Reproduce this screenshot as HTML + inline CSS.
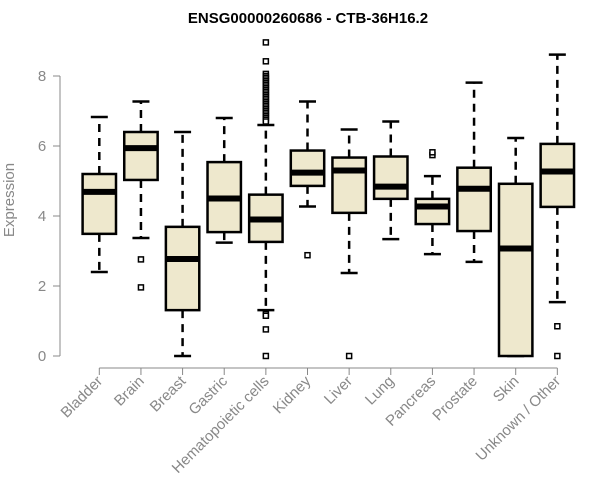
<!DOCTYPE html>
<html><head><meta charset="utf-8"><style>
body{margin:0;background:#fff}
svg{display:block;font-family:"Liberation Sans",Arial,sans-serif}
</style></head><body>
<svg id="chart" width="600" height="500" viewBox="0 0 600 500">
<text x="308" y="23" text-anchor="middle" font-weight="bold" font-size="15">ENSG00000260686 - CTB-36H16.2</text>
<text transform="translate(14,200) rotate(-90)" text-anchor="middle" font-size="15" fill="#888">Expression</text>
<g id="g"></g>
</svg>
<script>
const categories=["Bladder","Brain","Breast","Gastric","Hematopoietic cells","Kidney","Liver","Lung","Pancreas","Prostate","Skin","Unknown / Other"];
const lowWhisker=[2.4,3.37,0,3.24,1.31,4.27,2.37,3.34,2.91,2.69,0,1.54];
const q1=[3.49,5.03,1.31,3.54,3.26,4.86,4.09,4.49,3.77,3.57,0,4.26];
const median=[4.69,5.94,2.77,4.5,3.9,5.24,5.3,4.84,4.27,4.78,3.07,5.27];
const q3=[5.2,6.4,3.69,5.54,4.61,5.87,5.67,5.7,4.49,5.38,4.92,6.06];
const highWhisker=[6.83,7.27,6.4,6.8,6.6,7.27,6.47,6.7,5.14,7.81,6.23,8.61];
const outliers=[[],[2.76,1.96],[],[],
 [8.96,8.42,8.06,8.0,7.95,7.9,7.85,7.8,7.75,7.7,7.65,7.6,7.55,7.5,7.45,7.4,7.35,7.3,7.25,7.2,7.15,7.1,7.05,7.0,6.95,6.9,6.85,6.8,6.75,6.7,1.2,1.15,0.76,0],
 [2.88],[0],[],[5.74,5.82],[],[],[0.85,0]];
const yTicks=[0,2,4,6,8];
const NS="http://www.w3.org/2000/svg";
const g=document.getElementById('g');
const y=v=>356-v*35;
const x=i=>99.3+i*41.64;
function mk(tag,attrs){const e=document.createElementNS(NS,tag);for(const k in attrs)e.setAttribute(k,attrs[k]);g.appendChild(e);return e;}
// y axis
let ax=mk('line',{x1:60,x2:60,y1:y(8),y2:y(0),stroke:'#888'});


yTicks.forEach(t=>{
 const l=mk('line',{x1:53,x2:60,y1:y(t),y2:y(t),stroke:'#888'});
 
 
 const tx=mk('text',{x:42,y:y(t)+5,'text-anchor':'middle','font-size':15,fill:'#888'});
 tx.textContent=t;
 
 
});
// x axis
let xa=mk('line',{x1:x(0),x2:x(categories.length-1),y1:368,y2:368,stroke:'#888'});


categories.forEach((c,i)=>{
 const cx=x(i),hw=16.7,cap=8.5;
 const t=mk('line',{x1:cx,x2:cx,y1:368,y2:375,stroke:'#888'});
 
 
 const lb=mk('text',{transform:`translate(${cx+4},${382}) rotate(-45)`,'text-anchor':'end','font-size':15,fill:'#888'});
 lb.textContent=c;
 
 
 const w1=mk('line',{x1:cx,x2:cx,y1:y(q3[i]),y2:y(highWhisker[i]),stroke:'#000','stroke-width':2.5,'stroke-dasharray':'8,6'});
 
 
 const w2=mk('line',{x1:cx,x2:cx,y1:y(q1[i]),y2:y(lowWhisker[i]),stroke:'#000','stroke-width':2.5,'stroke-dasharray':'8,6'});
 
 
 const c1=mk('line',{x1:cx-cap,x2:cx+cap,y1:y(highWhisker[i]),y2:y(highWhisker[i]),stroke:'#000','stroke-width':2.5});
 
 
 const c2=mk('line',{x1:cx-cap,x2:cx+cap,y1:y(lowWhisker[i]),y2:y(lowWhisker[i]),stroke:'#000','stroke-width':2.5});
 
 
 const b=mk('rect',{x:cx-hw,y:y(q3[i]),width:hw*2,height:y(q1[i])-y(q3[i]),fill:'#EEE8CD',stroke:'#000','stroke-width':2.5});
 
 
 const m=mk('line',{x1:cx-hw,x2:cx+hw,y1:y(median[i]),y2:y(median[i]),stroke:'#000','stroke-width':6});
 
 
 outliers[i].forEach(v=>{
  const o=mk('rect',{x:cx-2.5,y:y(v)-2.5,width:5,height:5,fill:'#fff',stroke:'#000','stroke-width':1.5});
  
  
 });
});
</script>
</body></html>
